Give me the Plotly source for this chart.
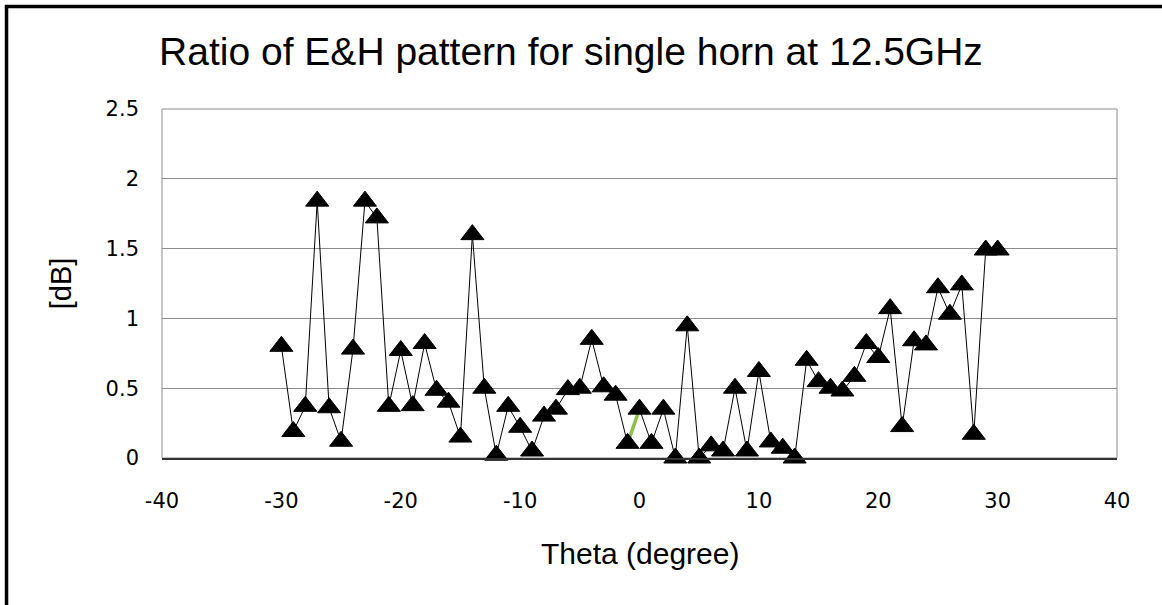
import plotly.graph_objects as go

# theta in degrees, ratio in dB
theta = list(range(-30, 31))
ratio = [0.80, 0.19, 0.37, 1.84, 0.36, 0.12, 0.78, 1.84, 1.72, 0.37,
         0.77, 0.375, 0.82, 0.485, 0.40, 0.15, 1.60, 0.50, 0.02, 0.37,
         0.22, 0.05, 0.30, 0.35, 0.49, 0.50, 0.85, 0.51, 0.45, 0.105,
         0.35, 0.105, 0.35, 0.0, 0.947, 0.0, 0.087, 0.05, 0.50, 0.05,
         0.62, 0.115, 0.07, 0.0, 0.70, 0.547, 0.50, 0.48, 0.585, 0.82,
         0.72, 1.07, 0.225, 0.84, 0.81, 1.22, 1.03, 1.24, 0.17, 1.49, 1.49]
x_ticks = [-40, -30, -20, -10, 0, 10, 20, 30, 40]
x_tick_text = ["-40", "-30", "-20", "-10", "0", "10", "20", "30", "40"]
y_ticks = [0, 0.5, 1, 1.5, 2, 2.5]
y_tick_text = ["0", "0.5", "1", "1.5", "2", "2.5"]

FONT = "Liberation Sans"
TICK_FONT = "DejaVu Sans"

fig = go.Figure()

fig.add_trace(go.Scatter(x=theta, y=ratio, mode="lines",
                         line=dict(color="black", width=1),
                         cliponaxis=False, showlegend=False))

# the one green segment between -1 and 0
fig.add_trace(go.Scatter(x=theta[29:31], y=ratio[29:31], mode="lines",
                         line=dict(color="#8DC049", width=3.5),
                         cliponaxis=False, showlegend=False))

fig.add_trace(go.Scatter(x=theta, y=ratio, mode="markers",
                         marker=dict(symbol="triangle-up", size=20, color="black",
                                     line=dict(color="black", width=1)),
                         cliponaxis=False, showlegend=False))

fig.update_layout(
    width=1162, height=605,
    margin=dict(l=162, r=45, t=109, b=147),
    paper_bgcolor="white", plot_bgcolor="white",
    font=dict(family=FONT, color="black"),
    title=dict(text="Ratio of E&H pattern for single horn at 12.5GHz",
               x=0.4914, xanchor="center", xref="container",
               y=0.9157, yanchor="middle", yref="container",
               font=dict(size=39, family=FONT, color="black")),
    xaxis=dict(range=[-40, 40], tickvals=x_ticks, ticktext=x_tick_text,
               showgrid=False, zeroline=False,
               showline=True, linecolor="#333333", linewidth=2,
               ticks="", ticklabelstandoff=23,
               tickfont=dict(size=21, family=TICK_FONT)),
    yaxis=dict(range=[0, 2.5], tickvals=y_ticks, ticktext=y_tick_text,
               showgrid=True, gridcolor="#8c8c8c", gridwidth=1, zeroline=False,
               showline=False, ticks="", ticklabelstandoff=22,
               tickfont=dict(size=21, family=TICK_FONT)),
    annotations=[
        dict(text="Theta (degree)", x=0.5, y=-0.275, xref="paper", yref="paper",
             xanchor="center", yanchor="middle", showarrow=False,
             font=dict(size=30, family=FONT)),
        dict(text="[dB]", x=-0.106, y=0.5, xref="paper", yref="paper",
             xanchor="center", yanchor="middle", textangle=-90, showarrow=False,
             font=dict(size=29, family=FONT)),
    ],
    shapes=[
        # plot area frame
        dict(type="rect", xref="paper", yref="paper", x0=0, x1=1, y0=0, y1=1,
             line=dict(color="#8c8c8c", width=1), layer="below"),
        # outer chart border (runs off the right and bottom edges)
        dict(type="rect", xref="paper", yref="paper", x0=-0.1628, x1=1.3,
             y0=-1, y1=1.2937, line=dict(color="black", width=3.5)),
    ],
)

# drop the default 8px body margin so the figure fills the window
fig.write_html("out.html", config={"displayModeBar": False},
               post_script="document.body.style.margin = '0';")
